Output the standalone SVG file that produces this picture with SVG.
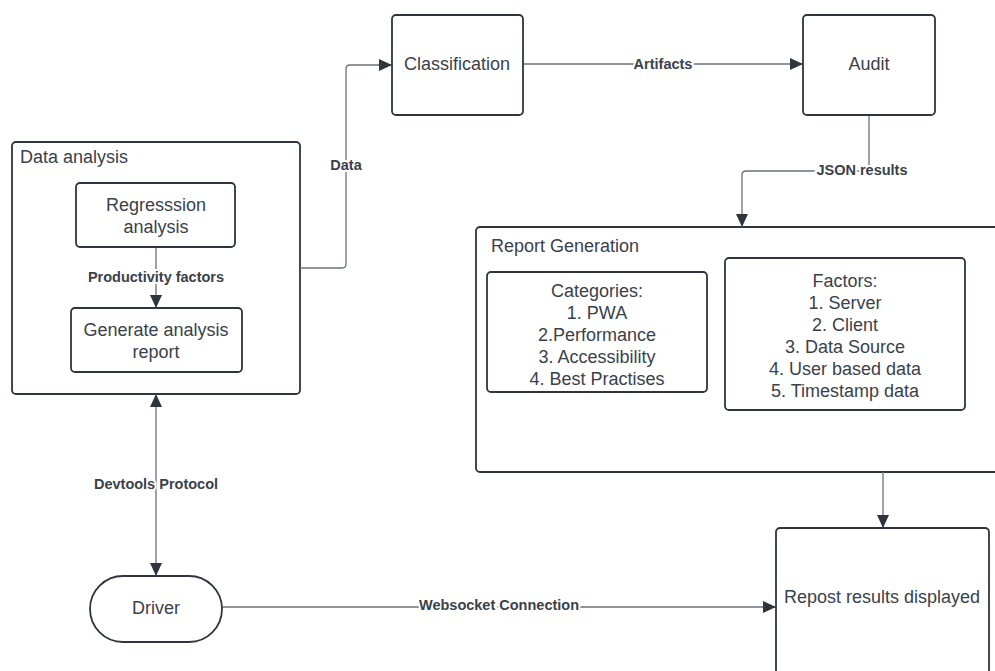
<svg xmlns="http://www.w3.org/2000/svg" width="995" height="671" viewBox="0 0 995 671">
<style>
  .box{fill:#fff;stroke:#2f353d;stroke-width:1.8}
  .t{font-family:"Liberation Sans",Arial,sans-serif;font-size:18px;fill:#3a414a}
  .c{text-anchor:middle}
  .conn{fill:none;stroke:#6b7079;stroke-width:1.3}
  .lbl{font-family:"Liberation Sans",Arial,sans-serif;font-size:14.5px;font-weight:bold;fill:#3a414a;text-anchor:middle;paint-order:stroke;stroke:#fff;stroke-width:4px}
</style>
<defs>
  <marker id="ah" markerWidth="14" markerHeight="12" refX="13" refY="6" orient="auto" markerUnits="userSpaceOnUse">
    <path d="M0,0 L13,6 L0,12 Z" fill="#2f353d"/>
  </marker>
  <marker id="ahs" markerWidth="14" markerHeight="12" refX="13" refY="6" orient="auto-start-reverse" markerUnits="userSpaceOnUse">
    <path d="M0,0 L13,6 L0,12 Z" fill="#2f353d"/>
  </marker>
</defs>
<rect width="995" height="671" fill="#fff"/>

<g id="data-analysis">
  <rect class="box" x="12" y="142" width="288" height="252" rx="4"/>
  <text class="t" x="20" y="163">Data analysis</text>
</g>
<g id="report-generation">
  <rect class="box" x="476" y="227" width="540" height="245" rx="4"/>
  <text class="t" x="491" y="252">Report Generation</text>
</g>

<g id="connectors">
  <line class="conn" x1="156" y1="247" x2="156" y2="308" marker-end="url(#ah)"/>
  <path class="conn" d="M300,268 H342 Q346,268 346,264 V69 Q346,65 350,65 H392" marker-end="url(#ah)"/>
  <line class="conn" x1="523" y1="64" x2="803" y2="64" marker-end="url(#ah)"/>
  <path class="conn" d="M869,115 V171 H746 Q742,171 742,175 V227" marker-end="url(#ah)"/>
  <line class="conn" x1="883" y1="472" x2="883" y2="528" marker-end="url(#ah)"/>
  <line class="conn" x1="156" y1="394" x2="156" y2="576" marker-start="url(#ahs)" marker-end="url(#ah)"/>
  <line class="conn" x1="222" y1="607" x2="776" y2="607" marker-end="url(#ah)"/>
  <text class="lbl" x="156" y="282">Productivity factors</text>
  <text class="lbl" x="346" y="170">Data</text>
  <text class="lbl" x="663" y="69">Artifacts</text>
  <text class="lbl" x="862" y="175">JSON results</text>
  <text class="lbl" x="156" y="489">Devtools Protocol</text>
  <text class="lbl" x="499" y="610">Websocket Connection</text>
</g>

<g id="regression">
  <rect class="box" x="76" y="183" width="159" height="64" rx="4"/>
  <text class="t c" x="156" y="211">Regresssion</text>
  <text class="t c" x="156" y="233">analysis</text>
</g>
<g id="generate-report">
  <rect class="box" x="71" y="308" width="171" height="64" rx="4"/>
  <text class="t c" x="156" y="336">Generate analysis</text>
  <text class="t c" x="156" y="358">report</text>
</g>
<g id="classification">
  <rect class="box" x="392" y="15" width="131" height="100" rx="4"/>
  <text class="t c" x="457" y="70">Classification</text>
</g>
<g id="audit">
  <rect class="box" x="803" y="15" width="132" height="100" rx="4"/>
  <text class="t c" x="869" y="70">Audit</text>
</g>
<g id="categories">
  <rect class="box" x="487" y="272" width="220" height="120" rx="4"/>
  <text class="t c" x="597" y="297">Categories:</text>
  <text class="t c" x="597" y="319">1. PWA</text>
  <text class="t c" x="597" y="341">2.Performance</text>
  <text class="t c" x="597" y="363">3. Accessibility</text>
  <text class="t c" x="597" y="385">4. Best Practises</text>
</g>
<g id="factors">
  <rect class="box" x="725" y="258" width="240" height="152" rx="4"/>
  <text class="t c" x="845" y="287">Factors:</text>
  <text class="t c" x="845" y="309">1. Server</text>
  <text class="t c" x="845" y="331">2. Client</text>
  <text class="t c" x="845" y="353">3. Data Source</text>
  <text class="t c" x="845" y="375">4. User based data</text>
  <text class="t c" x="845" y="397">5. Timestamp data</text>
</g>
<g id="driver">
  <rect class="box" x="90" y="576" width="132" height="66" rx="33"/>
  <text class="t c" x="156" y="614">Driver</text>
</g>
<g id="results-displayed">
  <rect class="box" x="776" y="528" width="213" height="170" rx="4"/>
  <text class="t c" x="882" y="603">Repost results displayed</text>
</g>
</svg>
